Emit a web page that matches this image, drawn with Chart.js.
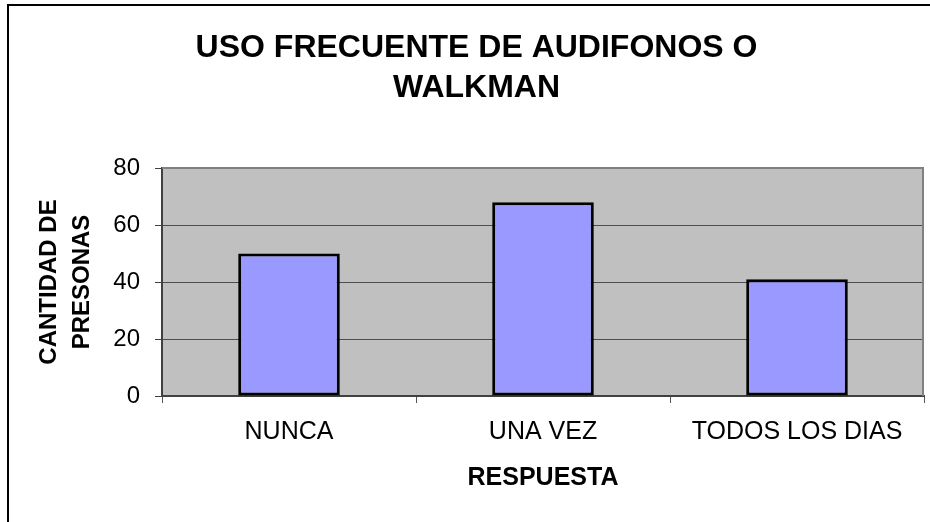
<!DOCTYPE html>
<html>
<head>
<meta charset="utf-8">
<script src="https://cdn.jsdelivr.net/npm/chart.js@4.4.0/dist/chart.umd.min.js"></script>
<style>
  html, body { margin: 0; padding: 0; background: #fff; overflow: hidden; }
  #wrap { position: relative; width: 930px; height: 522px; }
  #frame {
    position: absolute; left: 7px; top: 4px; width: 2000px; height: 2000px;
    border-left: 2px solid #000; border-top: 2px solid #000; pointer-events: none;
  }
  canvas { position: absolute; left: 0; top: 0; }
</style>
</head>
<body>
<div id="wrap">
  <canvas id="chart" width="930" height="522"></canvas>
  <div id="frame"></div>
</div>
<script>
  // ── Data ───────────────────────────────────────────────────────────
  var categories = ['NUNCA', 'UNA VEZ', 'TODOS LOS DIAS'];
  var personas = [50, 68, 41];
  var yTicks = [0, 20, 40, 60, 80];
  var chartTitle = ['USO FRECUENTE DE AUDIFONOS O', 'WALKMAN'];
  var xTitle = 'RESPUESTA';
  var yTitle = ['CANTIDAD DE', 'PRESONAS'];

  var FONT = '"Liberation Sans", Arial, sans-serif';

  // grey plot area with a grey border on top and right, like the old Excel look
  var plotAreaPlugin = {
    id: 'plotArea',
    beforeDraw: function (chart) {
      var a = chart.chartArea, ctx = chart.ctx;
      ctx.save();
      ctx.fillStyle = '#c0c0c0';
      ctx.fillRect(a.left, a.top, a.right - a.left, a.bottom - a.top);
      ctx.restore();
    },
    beforeDatasetsDraw: function (chart) {
      var a = chart.chartArea, ctx = chart.ctx;
      ctx.save();
      ctx.strokeStyle = '#808080';
      ctx.lineWidth = 2;
      ctx.beginPath();
      ctx.moveTo(a.left, a.top);
      ctx.lineTo(a.right - 1, a.top);
      ctx.lineTo(a.right - 1, a.bottom);
      ctx.stroke();
      ctx.restore();
    }
  };

  new Chart(document.getElementById('chart'), {
    type: 'bar',
    data: {
      labels: categories,
      datasets: [{
        data: personas,
        backgroundColor: '#9999ff',
        borderColor: '#000000',
        borderWidth: 3,
        borderSkipped: false,
        categoryPercentage: 1.0,
        barPercentage: 0.4
      }]
    },
    plugins: [plotAreaPlugin],
    options: {
      responsive: false,
      animation: false,
      devicePixelRatio: 1,
      layout: { padding: { left: 29, right: 6, top: 0, bottom: 0 } },
      plugins: {
        legend: { display: false },
        tooltip: { enabled: false },
        title: {
          display: true,
          text: chartTitle,
          color: '#000',
          font: { family: FONT, size: 32, weight: 'bold', lineHeight: 1.25 },
          padding: { top: 28, bottom: 60 }
        }
      },
      scales: {
        x: {
          afterFit: function (axis) { axis.height = 126; },
          grid: {
            offset: true,
            drawOnChartArea: false,
            drawTicks: true,
            tickLength: 7,
            color: '#555555'
          },
          border: { display: true, color: '#404040', width: 2 },
          ticks: {
            color: '#000',
            padding: 14,
            maxRotation: 0,
            font: { family: FONT, size: 25 }
          },
          title: {
            display: true,
            text: xTitle,
            color: '#000',
            font: { family: FONT, size: 25, weight: 'bold', lineHeight: 1.2 },
            padding: { top: 0, bottom: 29 }
          }
        },
        y: {
          min: 0,
          max: 80,
          afterFit: function (axis) { axis.width = 133; },
          afterBuildTicks: function (axis) {
            axis.ticks = yTicks.map(function (v) { return { value: v }; });
          },
          grid: {
            drawTicks: true,
            tickLength: 7,
            color: function (ctx) {
              return ctx.tick && ctx.tick.value === 80 ? '#808080' : '#4d4d4d';
            },
            tickColor: '#404040'
          },
          border: { display: true, color: '#404040', width: 2 },
          ticks: {
            color: '#000',
            padding: 15,
            font: { family: FONT, size: 24 }
          },
          title: {
            display: true,
            text: yTitle,
            color: '#000',
            font: { family: FONT, size: 24, weight: 'bold', lineHeight: 1.375 },
            padding: { top: 4, bottom: 0 }
          }
        }
      }
    }
  });
</script>
</body>
</html>
